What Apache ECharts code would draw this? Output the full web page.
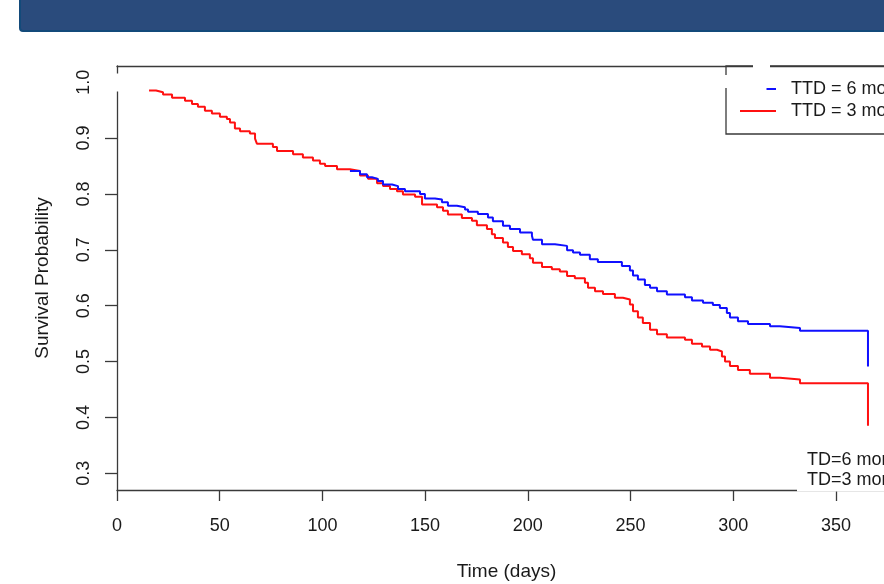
<!DOCTYPE html>
<html>
<head>
<meta charset="utf-8">
<script src="https://cdn.jsdelivr.net/npm/echarts@6/dist/echarts.min.js"></script>
<style>
  html, body { margin: 0; padding: 0; background: #fff; }
  #chart { width: 884px; height: 584px; }
</style>
</head>
<body>
<div id="chart"></div>
<script>
// survival curves (days, probability)
const blueDays = [113.4, 118.3, 121.7, 124.1, 127.0, 129.5, 133.9, 136.8, 140.2, 147.5, 149.9, 154.8, 158.2, 161.1, 165.5, 169.4, 170.9, 175.7, 180.6, 183.0, 187.9, 191.3, 196.2, 202.0, 202.5, 206.9, 213.2, 219.1, 222.0, 225.4, 230.2, 234.1, 245.8, 249.7, 251.2, 253.6, 257.0, 259.5, 262.9, 267.7, 276.5, 279.9, 285.3, 290.1, 293.5, 296.9, 298.4, 302.3, 307.2, 317.9, 322.7, 332.5, 365.6];
const blueSurv = [0.841, 0.835, 0.830, 0.827, 0.823, 0.817, 0.814, 0.809, 0.805, 0.800, 0.792, 0.790, 0.785, 0.779, 0.776, 0.772, 0.768, 0.764, 0.758, 0.751, 0.743, 0.737, 0.731, 0.725, 0.718, 0.710, 0.707, 0.699, 0.695, 0.691, 0.683, 0.678, 0.671, 0.663, 0.654, 0.647, 0.637, 0.632, 0.626, 0.620, 0.615, 0.609, 0.605, 0.601, 0.596, 0.587, 0.579, 0.572, 0.567, 0.563, 0.560, 0.555, 0.491];

const redDays = [15.6, 19.0, 22.4, 26.8, 33.1, 36.5, 39.4, 42.8, 46.2, 50.1, 53.5, 55.0, 57.4, 59.9, 64.7, 67.2, 68.1, 75.9, 77.9, 85.7, 90.5, 95.4, 98.8, 101.3, 107.1, 113.4, 118.3, 122.2, 126.6, 129.5, 132.9, 136.3, 139.2, 145.1, 148.5, 155.8, 158.7, 161.1, 167.9, 172.8, 175.2, 180.1, 182.5, 184.0, 187.9, 190.3, 192.8, 197.1, 201.0, 202.5, 206.9, 211.7, 215.6, 219.1, 222.9, 227.8, 229.3, 232.7, 236.6, 242.4, 246.3, 249.7, 251.2, 253.6, 256.0, 259.5, 262.9, 267.7, 276.5, 279.9, 284.8, 288.7, 292.1, 294.5, 296.0, 298.4, 302.3, 308.1, 317.9, 322.7, 332.5, 365.6];
const redSurv = [0.985, 0.982, 0.978, 0.972, 0.967, 0.961, 0.956, 0.949, 0.944, 0.938, 0.934, 0.928, 0.917, 0.912, 0.908, 0.899, 0.890, 0.884, 0.877, 0.871, 0.865, 0.860, 0.854, 0.850, 0.844, 0.841, 0.833, 0.827, 0.819, 0.814, 0.809, 0.805, 0.799, 0.795, 0.781, 0.776, 0.770, 0.763, 0.757, 0.752, 0.744, 0.737, 0.728, 0.721, 0.713, 0.705, 0.698, 0.692, 0.685, 0.677, 0.669, 0.665, 0.661, 0.653, 0.649, 0.641, 0.632, 0.626, 0.621, 0.614, 0.611, 0.602, 0.590, 0.579, 0.569, 0.557, 0.549, 0.543, 0.539, 0.532, 0.527, 0.521, 0.518, 0.509, 0.500, 0.492, 0.485, 0.478, 0.471, 0.468, 0.461, 0.385];

const xTicks = [0, 50, 100, 150, 200, 250, 300, 350];
const yTicks = [0.3, 0.4, 0.5, 0.6, 0.7, 0.8, 0.9, 1.0];
const seriesNames = ['TTD = 6 months', 'TTD = 3 months'];

const font = 'Liberation Sans, Arial, sans-serif';
const ink = '#1a1a1a';
const axisInk = '#3a3a3a';

function zip(xs, ys) {
  return xs.map((x, i) => [x, ys[i]]);
}

function patch(x, y, w, h) {
  return { type: 'rect', z: 100, shape: { x: x, y: y, width: w, height: h }, style: { fill: '#fff' } };
}

const chart = echarts.init(document.getElementById('chart'));

chart.setOption({
  animation: false,
  backgroundColor: '#fff',
  grid: { left: 117, right: 0, top: 66, bottom: 94, outerBoundsMode: 'none' },
  xAxis: [
    {
      type: 'value', min: 0, max: 373.4,
      name: 'Time (days)', nameLocation: 'middle', nameGap: 72,
      nameTextStyle: { fontFamily: font, fontSize: 19, color: ink, padding: [0, 0, 0, 12] },
      axisLine: { lineStyle: { color: axisInk, width: 1.3 } },
      axisTick: { length: 11, customValues: xTicks, lineStyle: { color: axisInk, width: 1.3 } },
      axisLabel: { customValues: xTicks, margin: 27, fontFamily: font, fontSize: 18, color: ink },
      splitLine: { show: false }
    },
    {
      // top edge of the plot box
      type: 'value', position: 'top', min: 0, max: 373.4,
      axisLine: { show: true, lineStyle: { color: axisInk, width: 1.3 } },
      axisTick: { show: false }, axisLabel: { show: false }, splitLine: { show: false }
    }
  ],
  yAxis: {
    type: 'value', min: 0.27, max: 1.029,
    name: 'Survival Probability', nameLocation: 'middle', nameGap: 65,
    nameTextStyle: { fontFamily: font, fontSize: 19, color: ink },
    axisLine: { show: true, lineStyle: { color: axisInk, width: 1.3 } },
    axisTick: { show: true, length: 12, customValues: yTicks, lineStyle: { color: axisInk, width: 1.3 } },
    axisLabel: {
      customValues: yTicks, rotate: 90, margin: 24,
      fontFamily: font, fontSize: 18, color: ink,
      formatter: v => v.toFixed(1)
    },
    splitLine: { show: false }
  },
  legend: {
    data: seriesNames,
    orient: 'vertical', left: 726, top: 66,
    padding: [14, 0, 14, 14], itemGap: 4,
    icon: 'rect', itemWidth: 36, itemHeight: 1.8,
    borderColor: axisInk, borderWidth: 1.3, borderRadius: 0,
    textStyle: { fontFamily: font, fontSize: 18, color: ink, padding: [0, 0, 0, 10] }
  },
  series: [
    {
      name: seriesNames[1], type: 'line', step: 'end', symbol: 'none',
      color: '#ff1010', lineStyle: { width: 2 },
      data: zip(redDays, redSurv)
    },
    {
      name: seriesNames[0], type: 'line', step: 'end', symbol: 'none',
      color: '#1010ff', lineStyle: { width: 2 },
      data: zip(blueDays, blueSurv)
    }
  ],
  graphic: [
    // header band
    { type: 'rect', z: 100, shape: { x: 20, y: -6, width: 880, height: 37, r: [0, 0, 0, 3] },
      style: { fill: '#2a4b7c', stroke: '#134a7a', lineWidth: 2 } },
    // white patches over the box, as in the original
    patch(98, 73.5, 24, 18),
    patch(753, 63, 17, 6),
    patch(722, 75, 8, 13),
    patch(738, 83, 28.5, 10),
    patch(797, 448, 100, 43.5),
    { type: 'text', z: 101, left: 807, top: 451,
      style: { text: 'TD=6 months', fontFamily: font, fontSize: 18, fill: ink } },
    { type: 'text', z: 101, left: 807, top: 471,
      style: { text: 'TD=3 months', fontFamily: font, fontSize: 18, fill: ink } }
  ]
});
</script>
</body>
</html>
